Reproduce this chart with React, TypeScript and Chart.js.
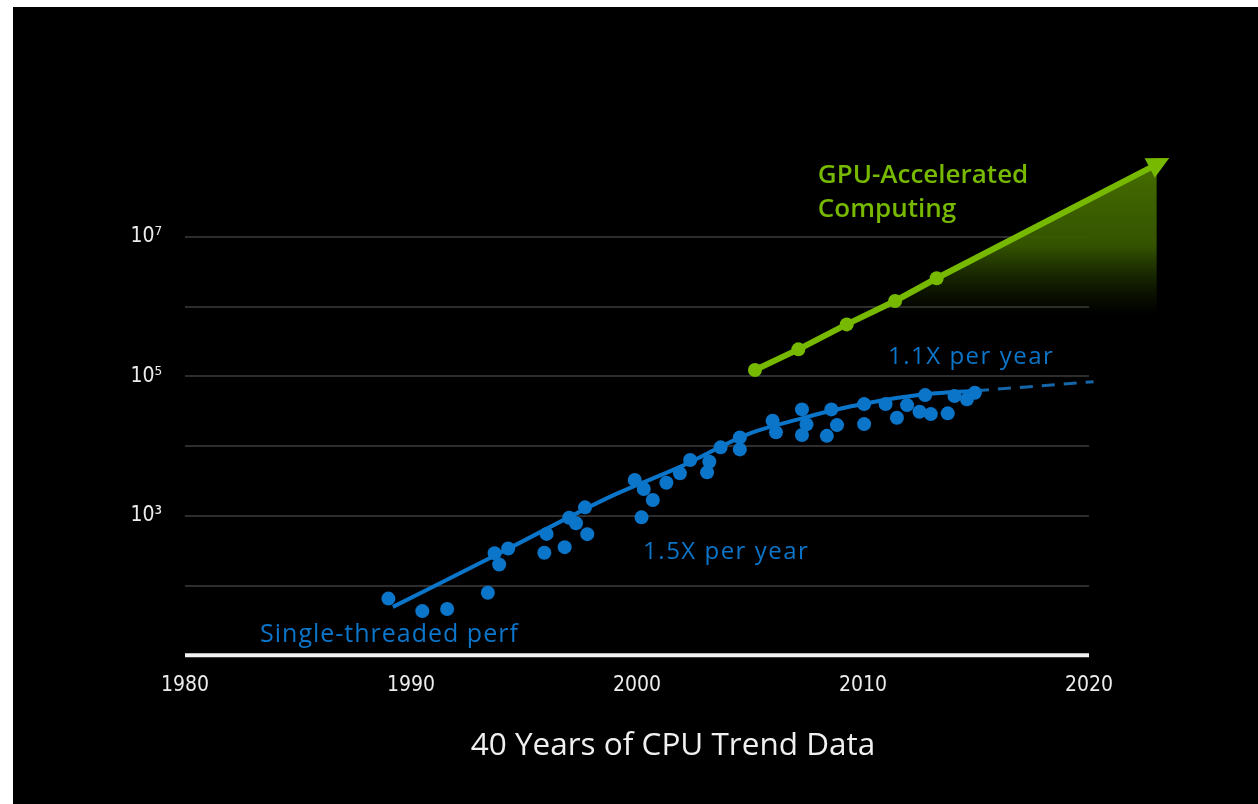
import React, { useEffect, useRef } from 'react';
import { Chart, registerables } from 'chart.js';

Chart.register(...registerables);

// ---- data ----
const cpuYears = [
  1989.0, 1990.5, 1991.6, 1993.4, 1993.7, 1993.9, 1994.3, 1995.9, 1996.0, 1996.8,
  1997.0, 1997.3, 1997.7, 1997.8, 1999.9, 2000.3, 2000.7, 2000.2, 2001.3, 2001.9,
  2002.35, 2003.2, 2003.1, 2003.7, 2004.55, 2004.55, 2006.0, 2006.15, 2007.3, 2007.5,
  2007.3, 2008.4, 2008.6, 2008.85, 2010.05, 2010.05, 2011.0, 2011.5, 2011.95, 2012.5,
  2013.0, 2012.75, 2013.75, 2014.05, 2014.6, 2014.95,
];
const cpuPerf = [
  65, 43, 46, 79, 290, 200, 340, 295, 550, 355,
  935, 780, 1320, 545, 3250, 2420, 1680, 950, 2970, 4060,
  6300, 5940, 4190, 9570, 13300, 8950, 23000, 15700, 33500, 20400,
  14400, 14000, 33500, 19950, 39900, 20600, 39900, 25400, 38600, 31000,
  28700, 53700, 29400, 52000, 46700, 57900,
];
const cpuTrendYears = [1989.2, 1994.0, 1998.8, 2001.9, 2005.0, 2007.3, 2008.6, 2010.1, 2012.8, 2015.0];
const cpuTrendPerf = [49.5, 300, 1870, 5020, 15200, 24900, 32000, 40800, 55600, 61900];
const cpuProjYears = [2015.0, 2020.2];
const cpuProjPerf = [61900, 83400];
const gpuYears = [2005.22, 2007.14, 2009.28, 2011.42, 2013.26, 2023.0];
const gpuPerf = [122700, 243000, 554000, 1200000, 2540000, 109000000];

const xTickYears = [1980, 1990, 2000, 2010, 2020];
const yTickValues = [1e3, 1e5, 1e7];
const yTickLabels = ['10\u00B3', '10\u2075', '10\u2077'];
const yGridValues = [1e2, 1e3, 1e4, 1e5, 1e6, 1e7];
const axisBaseValue = 10;

// annotation texts anchored in data coordinates
const annotations = [
  { text: 'GPU-Accelerated', x: 2008.0, y: Math.pow(10, 7.87), color: '#76b900', font: '600 26px "Open Sans"', spacing: '0px' },
  { text: 'Computing', x: 2008.0, y: Math.pow(10, 7.383), color: '#76b900', font: '600 26px "Open Sans"', spacing: '0px' },
  { text: '1.1X per year', x: 2011.11, y: Math.pow(10, 5.275), color: '#0b75c9', font: '400 24px "Open Sans"', spacing: '1.5px' },
  { text: '1.5X per year', x: 2000.27, y: Math.pow(10, 2.48), color: '#0b75c9', font: '400 24px "Open Sans"', spacing: '1.5px' },
  { text: 'Single-threaded perf', x: 1983.32, y: Math.pow(10, 1.29), color: '#0b75c9', font: '500 25px "Open Sans"', spacing: '1px' },
];

const BLUE = '#0b75c9';
const GREEN = '#76b900';
const TICK_FONT = '"DejaVu Sans Condensed", "Liberation Sans Narrow", "Liberation Sans", sans-serif';

const decorPlugin = {
  id: 'decor',
  beforeDatasetsDraw(chart: any) {
    const { ctx, scales } = chart;
    const x = scales.x;
    const y = scales.y;
    const x0 = x.getPixelForValue(xTickYears[0]);
    const x1 = x.getPixelForValue(xTickYears[xTickYears.length - 1]);
    ctx.save();
    ctx.strokeStyle = '#2d2d2d';
    ctx.lineWidth = 2;
    for (const v of yGridValues) {
      const py = Math.round(y.getPixelForValue(v));
      ctx.beginPath();
      ctx.moveTo(x0, py);
      ctx.lineTo(x1, py);
      ctx.stroke();
    }
    const pa = y.getPixelForValue(axisBaseValue);
    ctx.strokeStyle = '#f2f2f2';
    ctx.lineWidth = 4;
    ctx.beginPath();
    ctx.moveTo(x0, pa);
    ctx.lineTo(x1, pa);
    ctx.stroke();
    ctx.restore();
  },
  afterDatasetsDraw(chart: any) {
    const { ctx } = chart;
    // arrow head on GPU line
    const meta = chart.getDatasetMeta(0);
    const pts = meta.data;
    const a = pts[pts.length - 2];
    const b = pts[pts.length - 1];
    const dx = b.x - a.x;
    const dy = b.y - a.y;
    const len = Math.hypot(dx, dy);
    const ux = dx / len;
    const uy = dy / len;
    const tipX = b.x + ux * 14;
    const tipY = b.y + uy * 14;
    const baseX = b.x - ux * 8;
    const baseY = b.y - uy * 8;
    const hw = 11;
    ctx.save();
    ctx.fillStyle = GREEN;
    ctx.beginPath();
    ctx.moveTo(tipX, tipY);
    ctx.lineTo(baseX - uy * hw, baseY + ux * hw);
    ctx.lineTo(baseX + uy * hw, baseY - ux * hw);
    ctx.closePath();
    ctx.fill();

    // annotation texts
    const xs = chart.scales.x;
    const ys = chart.scales.y;
    ctx.textAlign = 'left';
    ctx.textBaseline = 'middle';
    for (const an of annotations) {
      ctx.font = an.font;
      ctx.fillStyle = an.color;
      (ctx as any).letterSpacing = an.spacing;
      ctx.fillText(an.text, xs.getPixelForValue(an.x), ys.getPixelForValue(an.y));
    }
    (ctx as any).letterSpacing = '0px';
    ctx.restore();
  },
};

export default function App() {
  const ref = useRef<HTMLCanvasElement>(null);

  useEffect(() => {
    if (!ref.current) return;
    const chart = new Chart(ref.current, {
      type: 'scatter',
      data: {
        datasets: [
          {
            label: 'GPU-Accelerated Computing',
            data: gpuYears.map((x, i) => ({ x, y: gpuPerf[i] })),
            showLine: true,
            borderColor: GREEN,
            borderWidth: 6,
            pointBackgroundColor: GREEN,
            pointBorderWidth: 0,
            pointRadius: gpuYears.map((_, i) => (i === gpuYears.length - 1 ? 0 : 7)),
            fill: 'start',
            backgroundColor: (c: any) => {
              const ch = c.chart;
              const ys = ch.scales && ch.scales.y;
              if (!ch.chartArea || !ys) return 'rgba(0,0,0,0)';
              const top = ys.getPixelForValue(1.2e8);
              const bot = ys.getPixelForValue(7.5e5);
              const g = ch.ctx.createLinearGradient(0, top, 0, bot);
              g.addColorStop(0, 'rgba(70,110,0,1)');
              g.addColorStop(0.55, 'rgba(56,90,0,0.92)');
              g.addColorStop(1, 'rgba(30,50,0,0)');
              return g;
            },
            clip: false,
            order: 3,
          },
          {
            label: 'CPU trend',
            data: cpuTrendYears.map((x, i) => ({ x, y: cpuTrendPerf[i] })),
            showLine: true,
            borderColor: BLUE,
            borderWidth: 4,
            pointRadius: 0,
            cubicInterpolationMode: 'monotone',
            fill: false,
            order: 2,
          },
          {
            label: 'CPU projection',
            data: cpuProjYears.map((x, i) => ({ x, y: cpuProjPerf[i] })),
            showLine: true,
            borderColor: '#1466a8',
            borderWidth: 3,
            borderDash: [13, 9],
            pointRadius: 0,
            fill: false,
            order: 2,
          },
          {
            label: 'Single-threaded perf',
            data: cpuYears.map((x, i) => ({ x, y: cpuPerf[i] })),
            showLine: false,
            backgroundColor: BLUE,
            borderWidth: 0,
            pointRadius: 7,
            order: 1,
          },
        ],
      },
      options: {
        responsive: false,
        animation: false,
        devicePixelRatio: 1,
        layout: { padding: { left: 72, right: 56, top: 125.1, bottom: 88.7 } },
        plugins: {
          legend: { display: false },
          tooltip: { enabled: false },
        },
        scales: {
          x: {
            type: 'linear',
            min: 1980,
            max: 2025,
            border: { display: false },
            grid: { display: false, drawTicks: false },
            afterBuildTicks: (s: any) => {
              s.ticks = xTickYears.map((v) => ({ value: v }));
            },
            afterFit: (s: any) => {
              s.height = 60;
            },
            ticks: {
              padding: 18,
              color: '#ececec',
              font: { family: TICK_FONT, size: 21 },
              maxRotation: 0,
              autoSkip: false,
              callback: (v: any) => String(v),
            },
          },
          y: {
            type: 'logarithmic',
            min: 10,
            max: Math.pow(10, 8.5),
            border: { display: false },
            grid: { display: false, drawTicks: false },
            afterBuildTicks: (s: any) => {
              s.ticks = yTickValues.map((v) => ({ value: v }));
            },
            afterFit: (s: any) => {
              s.width = 100;
            },
            ticks: {
              padding: 23,
              color: '#ececec',
              font: { family: TICK_FONT, size: 21 },
              autoSkip: false,
              callback: (v: any) => {
                const i = yTickValues.indexOf(Number(v));
                return i >= 0 ? yTickLabels[i] : '';
              },
            },
          },
        },
      },
      plugins: [decorPlugin],
    } as any);
    return () => chart.destroy();
  }, []);

  return (
    <div
      style={{
        position: 'fixed',
        left: 13,
        top: 7,
        width: 1245,
        height: 797,
        background: '#000',
        overflow: 'hidden',
      }}
    >
      <canvas ref={ref} width={1245} height={797} style={{ display: 'block' }} />
      <div
        style={{
          position: 'absolute',
          left: 660,
          top: 735,
          transform: 'translate(-50%, -50%)',
          whiteSpace: 'nowrap',
          color: '#f0f0f0',
          fontFamily: '"Open Sans", sans-serif',
          fontSize: 31.5,
          fontWeight: 400,
        }}
      >
        40 Years of CPU Trend Data
      </div>
    </div>
  );
}
